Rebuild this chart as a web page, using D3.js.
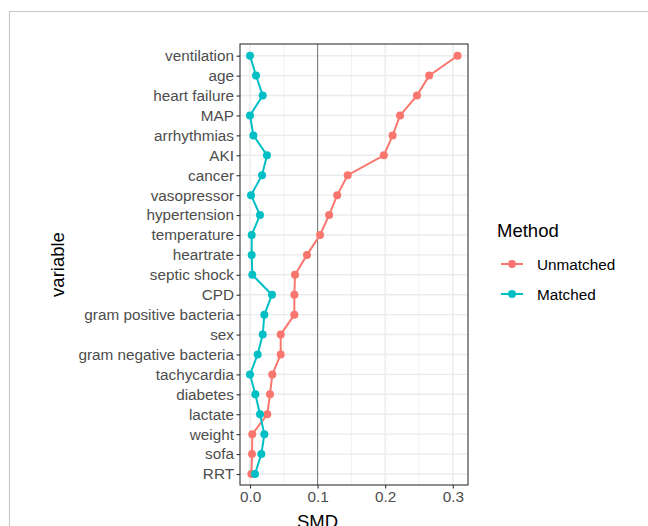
<!DOCTYPE html>
<html>
<head>
<meta charset="utf-8">
<script src="https://cdn.jsdelivr.net/npm/d3@7"></script>
<style>
  html, body { margin: 0; padding: 0; background: #fff; }
  svg { display: block; font-family: "Liberation Sans", Arial, sans-serif; }
</style>
</head>
<body>
<svg id="chart"></svg>
<script>
// variables, top to bottom
const variables = ['ventilation', 'age', 'heart failure', 'MAP', 'arrhythmias', 'AKI', 'cancer',
  'vasopressor', 'hypertension', 'temperature', 'heartrate', 'septic shock', 'CPD',
  'gram positive bacteria', 'sex', 'gram negative bacteria', 'tachycardia', 'diabetes',
  'lactate', 'weight', 'sofa', 'RRT'];
const unmatched = [0.307, 0.265, 0.247, 0.222, 0.211, 0.198, 0.1445, 0.129, 0.117, 0.1036,
  0.0843, 0.0666, 0.0656, 0.0656, 0.0454, 0.0454, 0.033, 0.0296, 0.0256, 0.0034, 0.003, 0.002];
const matched = [0.0, 0.0089, 0.0188, 0.0, 0.005, 0.0251, 0.0178, 0.0015, 0.0148, 0.0025,
  0.0025, 0.0034, 0.0325, 0.0212, 0.0188, 0.0113, 0.0, 0.0079, 0.0148, 0.0212, 0.0168, 0.0074];
const xTicks = [0.0, 0.1, 0.2, 0.3];
const xMinor = [0.05, 0.15, 0.25];
const methods = ['Unmatched', 'Matched'];
const colors = ['#F8766D', '#00BFC4'];
const refLine = 0.1;

const W = 648, H = 526;
const panel = { left: 240, top: 44, right: 468, bottom: 485 };

const svg = d3.select('#chart').attr('width', W).attr('height', H);

// outer frame
svg.append('path')
  .attr('d', `M9.5,${H} L9.5,11.5 L${W},11.5`)
  .attr('fill', 'none').attr('stroke', '#c8c8c8').attr('stroke-width', 1.2);

const x = d3.scaleLinear().domain([-0.0148, 0.3225]).range([panel.left, panel.right]);
const y = d3.scalePoint().domain(variables).range([55.7, 474]);

const g = svg.append('g');

// grid
g.selectAll('.minor').data(xMinor).join('line')
  .attr('x1', d => x(d)).attr('x2', d => x(d))
  .attr('y1', panel.top).attr('y2', panel.bottom)
  .attr('stroke', '#ebebeb').attr('stroke-width', 0.7);
g.selectAll('.major').data(xTicks).join('line')
  .attr('x1', d => x(d)).attr('x2', d => x(d))
  .attr('y1', panel.top).attr('y2', panel.bottom)
  .attr('stroke', '#ebebeb').attr('stroke-width', 1.4);
g.selectAll('.hgrid').data(variables).join('line')
  .attr('x1', panel.left).attr('x2', panel.right)
  .attr('y1', d => y(d)).attr('y2', d => y(d))
  .attr('stroke', '#ebebeb').attr('stroke-width', 1.4);

// reference line
g.append('line')
  .attr('x1', x(refLine)).attr('x2', x(refLine))
  .attr('y1', panel.top).attr('y2', panel.bottom)
  .attr('stroke', '#555').attr('stroke-width', 0.8);

// series
const series = [unmatched, matched];
const line = d3.line().x(d => x(d.v)).y(d => y(d.k));
series.forEach((vals, i) => {
  const data = variables.map((k, j) => ({ k, v: vals[j] }));
  g.append('path').datum(data)
    .attr('fill', 'none').attr('stroke', colors[i]).attr('stroke-width', 2)
    .attr('d', line);
  g.selectAll(null).data(data).join('circle')
    .attr('cx', d => x(d.v)).attr('cy', d => y(d.k)).attr('r', 4)
    .attr('fill', colors[i]);
});

// panel border
g.append('rect')
  .attr('x', panel.left).attr('y', panel.top)
  .attr('width', panel.right - panel.left).attr('height', panel.bottom - panel.top)
  .attr('fill', 'none').attr('stroke', '#333').attr('stroke-width', 1.1);

// axes
const axisX = d3.axisBottom(x).tickValues(xTicks).tickFormat(d3.format('.1f')).tickSize(3.5).tickPadding(3);
const ax = svg.append('g').attr('transform', `translate(0,${panel.bottom})`).call(axisX);
const axisY = d3.axisLeft(y).tickSize(3.5).tickPadding(2.5);
const ay = svg.append('g').attr('transform', `translate(${panel.left},0)`).call(axisY);
[ax, ay].forEach(a => {
  a.select('.domain').remove();
  a.selectAll('.tick line').attr('stroke', '#333').attr('stroke-width', 1.1);
  a.selectAll('.tick text').attr('fill', '#4d4d4d').style('font-size', '15.3px');
});

// axis titles
svg.append('text').attr('x', x(0.1)).attr('y', 528).attr('text-anchor', 'middle')
  .style('font-size', '18.5px').attr('fill', '#000').text('SMD');
svg.append('text').attr('transform', `translate(64,${(panel.top + panel.bottom) / 2}) rotate(-90)`)
  .attr('text-anchor', 'middle').style('font-size', '18.5px').attr('fill', '#000').text('variable');

// legend
const lg = svg.append('g').attr('transform', 'translate(497,0)');
lg.append('text').attr('x', 0).attr('y', 237).style('font-size', '18.5px').attr('fill', '#000').text('Method');
methods.forEach((m, i) => {
  const cy = 264 + i * 30;
  lg.append('line').attr('x1', 4).attr('x2', 26).attr('y1', cy).attr('y2', cy)
    .attr('stroke', colors[i]).attr('stroke-width', 2);
  lg.append('circle').attr('cx', 15).attr('cy', cy).attr('r', 4).attr('fill', colors[i]);
  lg.append('text').attr('x', 40).attr('y', cy + 5.5).style('font-size', '15.3px').attr('fill', '#000').text(m);
});
</script>
</body>
</html>
